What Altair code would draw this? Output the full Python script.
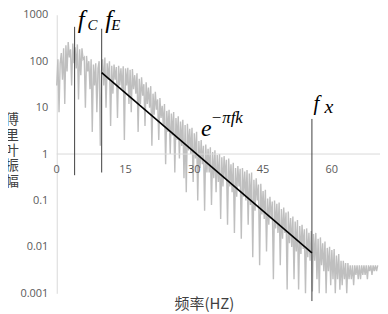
import altair as alt
import pandas as pd

# ---- data ----
freq = [i * 0.25 for i in range(281)]
amp = [
    30, 110, 8, 90,            # 0 Hz
    150, 40, 190, 12,          # 1
    220, 60, 260, 120,         # 2
    180, 30, 240, 90,          # 3
    200, 70, 230, 15,          # 4
    180, 50, 190, 110,         # 5
    120, 10, 130, 60,          # 6
    100, 25, 110, 3,           # 7
    85, 30, 90, 8,             # 8
    70, 100, 1.5, 60,          # 9
    110, 30, 120, 10,          # 10
    90, 40, 100, 4,            # 11
    80, 20, 85, 40,            # 12
    75, 6, 80, 30,             # 13
    70, 25, 78, 2,             # 14
    70, 30, 72, 12,            # 15
    65, 8, 68, 25,             # 16
    50, 20, 55, 3,             # 17
    42, 12, 45, 18,            # 18
    32, 4, 35, 12,             # 19
    27, 10, 29, 1.5,           # 20
    20, 7, 22, 9,              # 21
    15, 2, 16, 6,              # 22
    11, 4, 12, 0.6,            # 23
    8.5, 3, 9, 1,              # 24
    7.5, 2.5, 8, 0.4,          # 25
    6, 2, 6.5, 0.8,            # 26
    5, 1.5, 5.5, 0.3,          # 27
    4.2, 0.15, 4.5, 1.2,       # 28
    3.5, 1, 3.7, 0.25,         # 29
    2.8, 0.8, 3, 0.1,          # 30
    1.9, 0.5, 2, 0.6,          # 31
    1.5, 0.06, 1.6, 0.4,       # 32
    1.3, 0.4, 1.4, 0.08,       # 33
    1.1, 0.3, 1.2, 0.15,       # 34
    0.95, 0.25, 1, 0.04,       # 35
    0.85, 0.2, 0.9, 0.3,       # 36
    0.75, 0.03, 0.8, 0.2,      # 37
    0.6, 0.15, 0.65, 0.02,     # 38
    0.5, 0.12, 0.55, 0.2,      # 39
    0.48, 0.015, 0.5, 0.12,    # 40
    0.42, 0.1, 0.45, 0.03,     # 41
    0.38, 0.08, 0.4, 0.006,    # 42
    0.28, 0.06, 0.3, 0.1,      # 43
    0.22, 0.004, 0.23, 0.05,   # 44
    0.16, 0.04, 0.17, 0.008,   # 45
    0.11, 0.03, 0.12, 0.04,    # 46
    0.095, 0.002, 0.1, 0.025,  # 47
    0.085, 0.02, 0.09, 0.004,  # 48
    0.065, 0.015, 0.07, 0.02,  # 49
    0.055, 0.0012, 0.058, 0.012,  # 50
    0.042, 0.01, 0.045, 0.002,    # 51
    0.035, 0.008, 0.038, 0.0012,  # 52
    0.028, 0.007, 0.03, 0.009,    # 53
    0.024, 0.001, 0.025, 0.006,   # 54
    0.02, 0.005, 0.022, 0.0011,   # 55
    0.019, 0.005, 0.02, 0.002,    # 56
    0.015, 0.001, 0.016, 0.004,   # 57
    0.012, 0.003, 0.013, 0.001,   # 58
    0.0095, 0.003, 0.01, 0.0015,  # 59
    0.0085, 0.002, 0.009, 0.001,  # 60
    0.0065, 0.002, 0.007, 0.0012, # 61
    0.005, 0.0015, 0.005, 0.002,  # 62
    0.0045, 0.001, 0.0045, 0.002, # 63
    0.004, 0.002, 0.004, 0.0015,  # 64
    0.004, 0.0025, 0.004, 0.002,  # 65
    0.004, 0.002, 0.004, 0.0025,  # 66
    0.004, 0.0025, 0.004, 0.002,  # 67
    0.004, 0.003, 0.004, 0.0025,  # 68
    0.004, 0.003, 0.004, 0.003,   # 69
    0.004,                        # 70
]

x_domain = [0, 70.5]
y_ticks = [0.001, 0.01, 0.1, 1, 10, 100, 1000]
x_tick_values = [0, 15, 30, 45, 60]

marker_freq = [3.9, 9.8, 55.65]
marker_top = [550, 500, 5.7]
marker_bottom = [0.35, 0.4, 0.00068]

fit_freq = [9.8, 55.65]
fit_amp = [57, 0.0074]

ann_text = ["f", "C", "f", "E", "e", "\u2212\u03c0fk", "f", "x"]
ann_freq = [4.56, 6.72, 10.6, 11.9, 31.45, 33.6, 56.0, 58.4]
ann_amp = [525, 480, 525, 470, 2.48, 4.6, 8.9, 7.7]
ann_size = [25, 15, 25, 15, 24, 17, 21, 20]

y_title = "傅\n里\n叶\n振\n幅"

# ---- chart ----
xs = alt.Scale(domain=x_domain, nice=False, zero=False)
ys = alt.Scale(type="log", domain=[0.001, 1000], nice=False)

df = pd.DataFrame({"freq": freq, "amp": amp})

spectrum = alt.Chart(df).mark_line(color="#bfbfbf", strokeWidth=1.4).encode(
    x=alt.X("freq:Q", scale=xs, axis=alt.Axis(
        title="频率(HZ)", labels=False, ticks=False, domain=False, grid=False,
        titleX=148, titleY=10, titleBaseline="middle", titleAlign="center",
        titleFont="Noto Sans CJK SC", titleFontSize=15, titleFontWeight="normal",
        titleColor="#404040")),
    y=alt.Y("amp:Q", scale=ys, axis=alt.Axis(
        values=y_ticks, format="~g", ticks=False, grid=False,
        domainColor="#d9d9d9", labelPadding=9, labelFont="Open Sans",
        labelFontSize=11, labelColor="#595959", title=None)),
)

hline_df = pd.DataFrame({"freq": [x_domain[0]], "freq2": [x_domain[1]], "amp": [1]})
hline = alt.Chart(hline_df).mark_rule(color="#d9d9d9", strokeWidth=1).encode(
    x=alt.X("freq:Q", scale=xs), x2="freq2:Q", y=alt.Y("amp:Q", scale=ys))

xlab_df = pd.DataFrame({"freq": x_tick_values, "amp": [1] * len(x_tick_values),
                        "label": [str(v) for v in x_tick_values]})
xlabels = alt.Chart(xlab_df).mark_text(
    dy=16, baseline="middle", align="center", font="Open Sans", fontSize=11,
    color="#595959").encode(
    x=alt.X("freq:Q", scale=xs), y=alt.Y("amp:Q", scale=ys), text="label:N")

mk_df = pd.DataFrame({"freq": marker_freq, "amp": marker_top, "amp2": marker_bottom})
markers = alt.Chart(mk_df).mark_rule(color="#404040", strokeWidth=1).encode(
    x=alt.X("freq:Q", scale=xs), y=alt.Y("amp:Q", scale=ys), y2="amp2:Q")

fit_df = pd.DataFrame({"freq": fit_freq, "amp": fit_amp})
fit = alt.Chart(fit_df).mark_line(color="#000000", strokeWidth=1.6).encode(
    x=alt.X("freq:Q", scale=xs), y=alt.Y("amp:Q", scale=ys))

ann_df = pd.DataFrame({"freq": ann_freq, "amp": ann_amp, "t": ann_text, "s": ann_size})
ann = alt.Chart(ann_df).mark_text(
    align="left", baseline="alphabetic", font="Liberation Serif",
    fontStyle="italic", color="#000000").encode(
    x=alt.X("freq:Q", scale=xs), y=alt.Y("amp:Q", scale=ys), text="t:N",
    size=alt.Size("s:Q", scale=None))

ytitle = alt.Chart(pd.DataFrame({"t": [y_title]})).mark_text(
    align="center", baseline="top", lineBreak="\n", lineHeight=15.5,
    font="Noto Sans CJK SC", fontSize=14, color="#404040").encode(
    x=alt.value(-45), y=alt.value(99), text="t:N")

chart = alt.layer(spectrum, hline, xlabels, markers, fit, ann, ytitle).properties(
    width=325, height=280,
    padding={"left": 49, "top": 6, "right": 0, "bottom": 18},
    autosize=alt.AutoSizeParams(type="none"),
).configure_view(stroke=None)

chart.save("out.html", embed_options={"renderer": "svg", "actions": False})
